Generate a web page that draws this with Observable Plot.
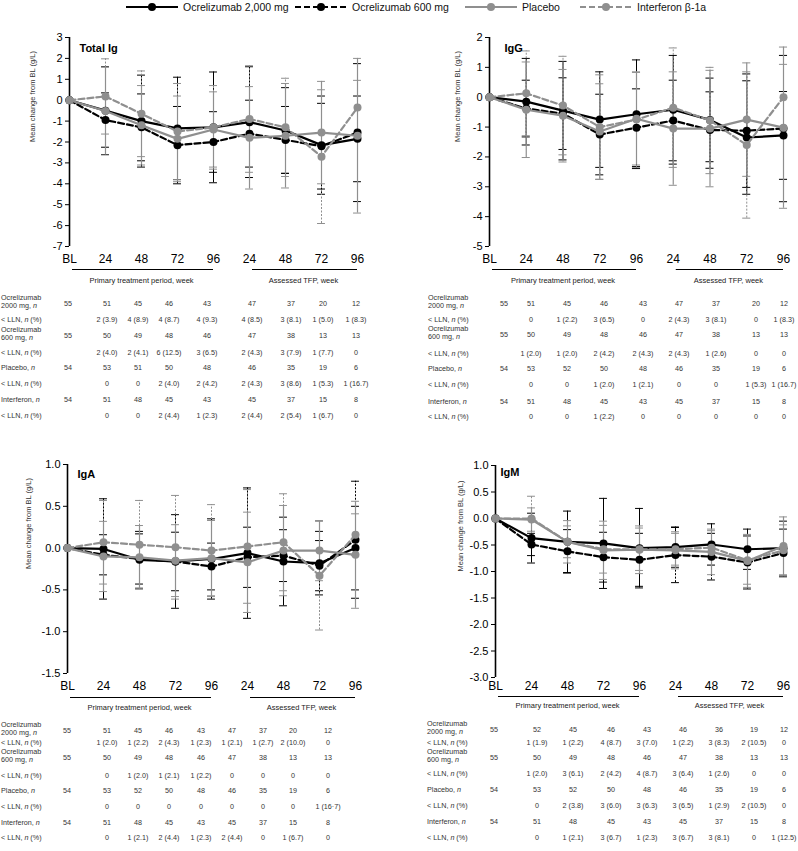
<!DOCTYPE html>
<html>
<head>
<meta charset="utf-8">
<script src="https://cdn.jsdelivr.net/npm/d3@7"></script>
<script src="https://cdn.jsdelivr.net/npm/@observablehq/plot@0.6"></script>
<style>
  body { margin: 0; background: #fff; font-family: "Liberation Sans", Arial, sans-serif; }
  #page { position: relative; width: 798px; height: 851px; overflow: hidden; background: #fff; }
  .leg { position: absolute; top: 0px; height: 13px; display: flex; align-items: center; font-size: 10.5px; color: #111; white-space: nowrap; }
  .leg svg { margin-right: 5px; }
</style>
</head>
<body>
<div id="page"></div>
<script>
// ---------------- DATA ----------------
const visits = ["BL", "24", "48", "72", "96", "24", "48", "72", "96"];
const seriesNames = ["Ocrelizumab 2,000 mg", "Ocrelizumab 600 mg", "Placebo", "Interferon β-1a"];
const periods = ["Primary treatment period, week", "Assessed TFP, week"];
const periodStart = [0, 5];
const periodEnd = [4, 8];
const yLabel = "Mean change from BL (g/L)";
const panelTitles = ["Total Ig", "IgG", "IgA", "IgM"];

// Total Ig: mean change and SD
const totalIgOcr2000   = [0, -0.50, -1.00, -1.35, -1.30, -1.05, -1.45, -2.15, -1.85];
const totalIgOcr2000Sd = [0, 2.10, 2.20, 2.45, 2.65, 2.65, 2.05, 2.35, 2.05];
const totalIgOcr600    = [0, -0.95, -1.30, -2.15, -2.00, -1.60, -1.90, -2.20, -1.55];
const totalIgOcr600Sd  = [0, 1.30, 1.60, 1.85, 1.45, 1.60, 1.60, 2.05, 3.30];
const totalIgPlacebo   = [0, -0.52, -1.20, -1.85, -1.40, -1.80, -1.70, -1.55, -1.70];
const totalIgPlaceboSd = [0, 2.10, 1.90, 2.05, 1.80, 2.45, 2.50, 2.45, 3.70];
const totalIgIfn       = [0, 0.18, -0.65, -1.50, -1.30, -0.90, -1.30, -2.70, -0.35];
const totalIgIfnSd     = [0, 1.80, 2.05, 2.30, 2.00, 2.55, 2.35, 3.20, 1.30];

// IgG
const iggOcr2000   = [0, -0.15, -0.45, -0.75, -0.57, -0.42, -0.76, -1.35, -1.28];
const iggOcr2000Sd = [0, 1.45, 1.65, 1.60, 1.82, 1.82, 1.40, 1.90, 1.47];
const iggOcr600    = [0, -0.38, -0.55, -1.25, -1.02, -0.78, -1.10, -1.12, -1.05];
const iggOcr600Sd  = [0, 0.95, 1.20, 1.35, 1.30, 1.35, 1.28, 1.90, 2.45];
const iggPlacebo   = [0, -0.42, -0.62, -1.15, -0.72, -1.05, -1.05, -0.75, -1.02];
const iggPlaceboSd = [0, 1.60, 1.55, 1.60, 1.55, 1.90, 1.95, 1.90, 2.70];
const iggIfn       = [0, 0.13, -0.28, -1.00, -0.75, -0.35, -0.78, -1.60, 0.00];
const iggIfnSd     = [0, 1.42, 1.65, 1.75, 1.60, 2.00, 1.78, 2.45, 1.10];

// IgA
const igaOcr2000   = [0, -0.01, -0.14, -0.16, -0.13, -0.06, -0.16, -0.18, 0.00];
const igaOcr2000Sd = [0, 0.60, 0.34, 0.56, 0.48, 0.78, 0.53, 0.38, 0.50];
const igaOcr600    = [0, -0.08, -0.13, -0.16, -0.22, -0.11, -0.09, -0.21, 0.10];
const igaOcr600Sd  = [0, 0.24, 0.30, 0.35, 0.28, 0.36, 0.31, 0.30, 0.70];
const igaPlacebo   = [0, -0.10, -0.11, -0.15, -0.12, -0.17, -0.03, -0.03, -0.08];
const igaPlaceboSd = [0, 0.42, 0.38, 0.43, 0.45, 0.60, 0.54, 0.36, 0.64];
const igaIfn       = [0, 0.07, 0.04, 0.01, -0.03, 0.02, 0.07, -0.33, 0.16];
const igaIfnSd     = [0, 0.50, 0.53, 0.62, 0.55, 0.68, 0.58, 0.65, 0.25];

// IgM
const igmOcr2000   = [0, -0.37, -0.44, -0.47, -0.56, -0.54, -0.49, -0.58, -0.56];
const igmOcr2000Sd = [0, 0.47, 0.58, 0.85, 0.75, 0.38, 0.39, 0.38, 0.51];
const igmOcr600    = [0, -0.49, -0.62, -0.73, -0.78, -0.69, -0.72, -0.83, -0.65];
const igmOcr600Sd  = [0, 0.21, 0.41, 0.47, 0.50, 0.52, 0.44, 0.50, 0.45];
const igmPlacebo   = [0, -0.02, -0.44, -0.60, -0.59, -0.60, -0.63, -0.80, -0.52];
const igmPlaceboSd = [0, 0.22, 0.40, 0.55, 0.45, 0.35, 0.43, 0.50, 0.55];
const igmIfn       = [0, 0.00, -0.44, -0.58, -0.58, -0.58, -0.55, -0.79, -0.60];
const igmIfnSd     = [0, 0.42, 0.30, 0.45, 0.40, 0.30, 0.32, 0.45, 0.48];

// Tables
const tableRowLabels = [
  ["Ocrelizumab", "2000 mg, |n|"], ["< LLN, |n| (%)"],
  ["Ocrelizumab", "600 mg, |n|"], ["< LLN, |n| (%)"],
  ["Placebo, |n|"], ["< LLN, |n| (%)"],
  ["Interferon, |n|"], ["< LLN, |n| (%)"]
];
const nOcr2000 = [55, 51, 45, 46, 43, 47, 37, 20, 12];
const nOcr2000IgM = [55, 52, 45, 46, 43, 46, 36, 19, 12];
const nOcr600 = [55, 50, 49, 48, 46, 47, 38, 13, 13];
const nPlaceboTotalIg = [54, 53, 51, 50, 48, 46, 35, 19, 6];
const nPlacebo = [54, 53, 52, 50, 48, 46, 35, 19, 6];
const nInterferon = [54, 51, 48, 45, 43, 45, 37, 15, 8];

const totalIgLlnOcr2000 = ["2 (3.9)", "4 (8.9)", "4 (8.7)", "4 (9.3)", "4 (8.5)", "3 (8.1)", "1 (5.0)", "1 (8.3)"];
const totalIgLlnOcr600  = ["2 (4.0)", "2 (4.1)", "6 (12.5)", "3 (6.5)", "2 (4.3)", "3 (7.9)", "1 (7.7)", "0"];
const totalIgLlnPlacebo = ["0", "0", "2 (4.0)", "2 (4.2)", "2 (4.3)", "3 (8.6)", "1 (5.3)", "1 (16.7)"];
const totalIgLlnIfn     = ["0", "0", "2 (4.4)", "1 (2.3)", "2 (4.4)", "2 (5.4)", "1 (6.7)", "0"];

const iggLlnOcr2000 = ["0", "1 (2.2)", "3 (6.5)", "0", "2 (4.3)", "3 (8.1)", "0", "1 (8.3)"];
const iggLlnOcr600  = ["1 (2.0)", "1 (2.0)", "2 (4.2)", "2 (4.3)", "2 (4.3)", "1 (2.6)", "0", "0"];
const iggLlnPlacebo = ["0", "0", "1 (2.0)", "1 (2.1)", "0", "0", "1 (5.3)", "1 (16.7)"];
const iggLlnIfn     = ["0", "0", "1 (2.2)", "0", "0", "0", "0", "0"];

const igaLlnOcr2000 = ["1 (2.0)", "1 (2.2)", "2 (4.3)", "1 (2.3)", "1 (2.1)", "1 (2.7)", "2 (10.0)", "0"];
const igaLlnOcr600  = ["0", "1 (2.0)", "1 (2.1)", "1 (2.2)", "0", "0", "0", "0"];
const igaLlnPlacebo = ["0", "0", "0", "0", "0", "0", "0", "1 (16·7)"];
const igaLlnIfn     = ["0", "1 (2.1)", "2 (4.4)", "1 (2.3)", "2 (4.4)", "0", "1 (6.7)", "0"];

const igmLlnOcr2000 = ["1 (1.9)", "1 (2.2)", "4 (8.7)", "3 (7.0)", "1 (2.2)", "3 (8.3)", "2 (10.5)", "0"];
const igmLlnOcr600  = ["1 (2.0)", "3 (6.1)", "2 (4.2)", "4 (8.7)", "3 (6.4)", "1 (2.6)", "0", "0"];
const igmLlnPlacebo = ["0", "2 (3.8)", "3 (6.0)", "3 (6.3)", "3 (6.5)", "1 (2.9)", "2 (10.5)", "0"];
const igmLlnIfn     = ["0", "1 (2.1)", "3 (6.7)", "1 (2.3)", "3 (6.7)", "3 (8.1)", "0", "1 (12.5)"];

// ---------------- STYLE / LAYOUT ----------------
const BLACK = "#000", GRAY = "#8f8f8f";
const styles = [
  {color: BLACK, dash: undefined, barDash: undefined, barWidth: 1},
  {color: BLACK, dash: "6,3", barDash: "2,1.5", barWidth: 1},
  {color: GRAY, dash: undefined, barDash: undefined, barWidth: 1.2},
  {color: GRAY, dash: "6,3", barDash: "2,1.5", barWidth: 1}
];
const drawOrder = [0, 1, 3, 2];
const legendLeft = [126, 295, 465, 580];
const capHalf = 0.11;
const font = "'Liberation Sans', Arial, sans-serif";

const panels = [
  {title: panelTitles[0], means: [totalIgOcr2000, totalIgOcr600, totalIgPlacebo, totalIgIfn],
   sds: [totalIgOcr2000Sd, totalIgOcr600Sd, totalIgPlaceboSd, totalIgIfnSd],
   yDomain: [-7, 3], yStep: 1, dec: 0,
   L: {left: 0, top: 28, width: 400, height: 262, ml: 69, mr: 43, mt: 9, mb: 44, xPad: 8, ruleDy: 23, groupDy: 34, titleDx: 10, titleDy: 7, ylabDx: -37},
   table: {n: [nOcr2000, nOcr600, nPlaceboTotalIg, nInterferon], lln: [totalIgLlnOcr2000, totalIgLlnOcr600, totalIgLlnPlacebo, totalIgLlnIfn],
           labelX: 1, cols: [68, 107, 138, 169, 207, 252, 291, 323, 356], rows: [303, 319, 335, 352, 367, 383, 399, 415]}},
  {title: panelTitles[1], means: [iggOcr2000, iggOcr600, iggPlacebo, iggIfn],
   sds: [iggOcr2000Sd, iggOcr600Sd, iggPlaceboSd, iggIfnSd],
   yDomain: [-5, 2], yStep: 1, dec: 0,
   L: {left: 400, top: 28, width: 398, height: 262, ml: 89, mr: 15, mt: 9, mb: 44, xPad: 8, ruleDy: 23, groupDy: 34, titleDx: 15, titleDy: 7, ylabDx: -32},
   table: {n: [nOcr2000, nOcr600, nPlacebo, nInterferon], lln: [iggLlnOcr2000, iggLlnOcr600, iggLlnPlacebo, iggLlnIfn],
           labelX: 428, cols: [504, 531, 567, 604, 643, 679, 716, 756, 784], rows: [303, 319, 334, 353, 368, 384, 401, 416]}},
  {title: panelTitles[2], means: [igaOcr2000, igaOcr600, igaPlacebo, igaIfn],
   sds: [igaOcr2000Sd, igaOcr600Sd, igaPlaceboSd, igaIfnSd],
   yDomain: [-1.5, 1.0], yStep: 0.5, dec: 1,
   L: {left: 0, top: 455, width: 400, height: 262, ml: 67, mr: 45, mt: 9, mb: 44, xPad: 8, ruleDy: 24, groupDy: 34, titleDx: 10, titleDy: 6, ylabDx: -39},
   table: {n: [nOcr2000, nOcr600, nPlacebo, nInterferon], lln: [igaLlnOcr2000, igaLlnOcr600, igaLlnPlacebo, igaLlnIfn],
           labelX: 1, cols: [67, 107, 138, 169, 201, 232, 263, 293, 328], rows: [730, 742, 757, 775, 790, 806, 822, 837]}},
  {title: panelTitles[3], means: [igmOcr2000, igmOcr600, igmPlacebo, igmIfn],
   sds: [igmOcr2000Sd, igmOcr600Sd, igmPlaceboSd, igmIfnSd],
   yDomain: [-3, 1], yStep: 0.5, dec: 1,
   L: {left: 400, top: 455, width: 398, height: 262, ml: 95, mr: 15, mt: 10, mb: 40, xPad: 4, ruleDy: 19, groupDy: 28, titleDx: 5, titleDy: 3, ylabDx: -35},
   table: {n: [nOcr2000IgM, nOcr600, nPlacebo, nInterferon], lln: [igmLlnOcr2000, igmLlnOcr600, igmLlnPlacebo, igmLlnIfn],
           labelX: 427, cols: [494, 537, 573, 611, 647, 683, 719, 754, 784], rows: [729, 742, 757, 773, 789, 805, 821, 837]}}
];

const page = document.getElementById("page");

// ---------------- LEGEND ----------------
seriesNames.forEach((name, s) => {
  const st = styles[s];
  const item = document.createElement("div");
  item.className = "leg";
  item.style.left = legendLeft[s] + "px";
  item.innerHTML = `<svg width="52" height="12"><line x1="0" x2="52" y1="6" y2="6" stroke="${st.color}" stroke-width="2.2" ${st.dash ? `stroke-dasharray="${st.dash}"` : ""}/><circle cx="26" cy="6" r="4" fill="${st.color}"/></svg><span>${name}</span>`;
  page.appendChild(item);
});

// ---------------- PANELS ----------------
function buildPanel(cfg) {
  const {yDomain, yStep, dec, L} = cfg;
  const yTicks = d3.range(yDomain[0], yDomain[1] + yStep / 2, yStep);
  const groups = periods.map((label, k) => ({label, from: periodStart[k], to: periodEnd[k]}));
  const marks = [
    Plot.axisY({ticks: yTicks, tickFormat: d => d.toFixed(dec), tickSize: 4, tickPadding: 3, fontSize: 11, label: null}),
    Plot.axisX({ticks: d3.range(visits.length), tickFormat: i => visits[i], tickSize: 0, tickPadding: L.xPad, fontSize: 12, label: null}),
    Plot.ruleX([0], {stroke: "#000", strokeWidth: 1.6})
  ];
  drawOrder.forEach(s => {
    const st = styles[s];
    const rows = cfg.means[s].map((v, i) => ({i, v, sd: cfg.sds[s][i]})).filter(d => d.sd > 0);
    marks.push(Plot.ruleX(rows, {x: "i", y1: d => d.v - d.sd, y2: d => d.v + d.sd, stroke: st.color, strokeWidth: st.barWidth, strokeDasharray: st.barDash}));
    marks.push(Plot.ruleY(rows, {y: d => d.v - d.sd, x1: d => d.i - capHalf, x2: d => d.i + capHalf, stroke: st.color, strokeWidth: 1}));
    marks.push(Plot.ruleY(rows, {y: d => d.v + d.sd, x1: d => d.i - capHalf, x2: d => d.i + capHalf, stroke: st.color, strokeWidth: 1}));
  });
  drawOrder.forEach(s => {
    const st = styles[s];
    const rows = cfg.means[s].map((v, i) => ({i, v}));
    marks.push(Plot.line(rows, {x: "i", y: "v", stroke: st.color, strokeWidth: 2.2, strokeDasharray: st.dash}));
    marks.push(Plot.dot(rows, {x: "i", y: "v", r: 4, fill: st.color, stroke: "none"}));
  });
  marks.push(Plot.text([cfg.title], {frameAnchor: "top-left", dx: L.titleDx, dy: L.titleDy, text: d => d, textAnchor: "start", fontWeight: "bold", fontSize: 11, fill: "#000"}));
  marks.push(Plot.text([yLabel], {frameAnchor: "left", rotate: -90, dx: L.ylabDx, text: d => d, fontSize: 7.5, fill: "#333"}));
  marks.push(Plot.ruleY(groups, {y: () => yDomain[0], x1: "from", x2: "to", dy: L.ruleDy, stroke: "#000", strokeWidth: 1, insetLeft: 3}));
  marks.push(Plot.text(groups, {x: d => (d.from + d.to) / 2, y: () => yDomain[0], dy: L.groupDy, text: "label", fontSize: 7.5, fill: "#222"}));

  const svg = Plot.plot({
    width: L.width, height: L.height,
    marginLeft: L.ml, marginRight: L.mr, marginTop: L.mt, marginBottom: L.mb,
    x: {type: "linear", domain: [0, visits.length - 1]},
    y: {type: "linear", domain: yDomain},
    style: {fontFamily: font, background: "transparent", overflow: "visible", color: "#000"},
    marks
  });
  svg.style.position = "absolute";
  svg.style.left = L.left + "px";
  svg.style.top = L.top + "px";
  page.appendChild(svg);
}
panels.forEach(buildPanel);

// ---------------- TABLES (one SVG overlay) ----------------
const tsvg = d3.create("svg")
  .attr("width", 798).attr("height", 851)
  .style("position", "absolute").style("left", "0px").style("top", "0px")
  .style("font-family", font).style("font-size", "7.2px").attr("fill", "#333");

function addRich(sel, str) {
  str.split("|").forEach((part, k) => {
    if (!part) return;
    const ts = sel.append("tspan").text(part);
    if (k % 2 === 1) ts.attr("font-style", "italic");
  });
}

panels.forEach(cfg => {
  const t = cfg.table;
  for (let g = 0; g < 4; g++) {
    const rN = 2 * g, rL = 2 * g + 1;
    // n row label (one or two lines)
    const lines = tableRowLabels[rN];
    const yc = t.rows[rN] - (lines.length > 1 ? 1.5 : 0);
    lines.forEach((ln, k) => {
      const txt = tsvg.append("text").attr("x", t.labelX)
        .attr("y", yc + (k - (lines.length - 1) / 2) * 7.6).attr("dy", "0.35em");
      addRich(txt, ln);
    });
    const txtL = tsvg.append("text").attr("x", t.labelX).attr("y", t.rows[rL]).attr("dy", "0.35em");
    addRich(txtL, tableRowLabels[rL][0]);
    t.n[g].forEach((v, c) => {
      tsvg.append("text").attr("x", t.cols[c]).attr("y", t.rows[rN]).attr("dy", "0.35em")
        .attr("text-anchor", "middle").text(v);
    });
    t.lln[g].forEach((v, c) => {
      tsvg.append("text").attr("x", t.cols[c + 1]).attr("y", t.rows[rL]).attr("dy", "0.35em")
        .attr("text-anchor", "middle").text(v);
    });
  }
});
page.appendChild(tsvg.node());
</script>
</body>
</html>
